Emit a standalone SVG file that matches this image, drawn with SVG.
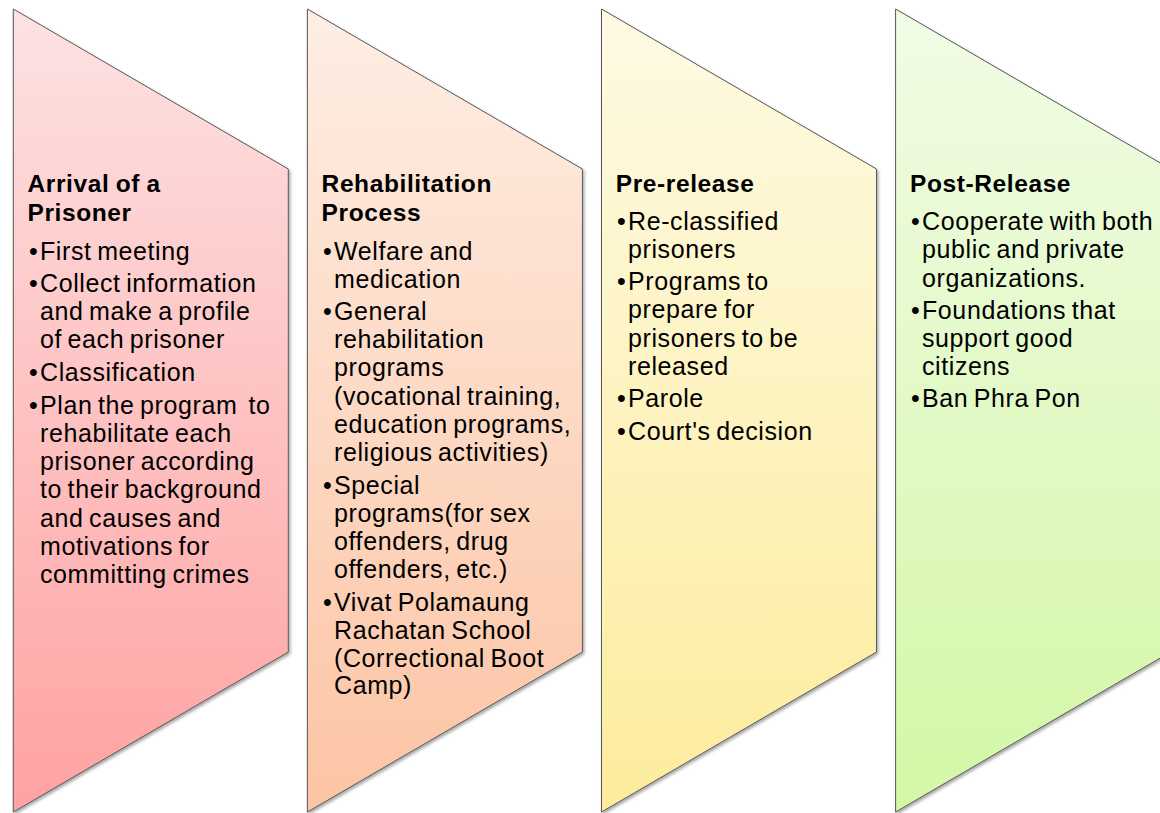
<svg xmlns="http://www.w3.org/2000/svg" width="1160" height="813" viewBox="0 0 1160 813">
  <defs>
    <linearGradient id="gRed" x1="0" y1="0" x2="0" y2="1">
      <stop offset="0" stop-color="#fde2e2"/>
      <stop offset="1" stop-color="#ffa2a2"/>
    </linearGradient>
    <linearGradient id="gPeach" x1="0" y1="0" x2="0" y2="1">
      <stop offset="0" stop-color="#feeee4"/>
      <stop offset="1" stop-color="#fcc4a4"/>
    </linearGradient>
    <linearGradient id="gYellow" x1="0" y1="0" x2="0" y2="1">
      <stop offset="0" stop-color="#fefae4"/>
      <stop offset="1" stop-color="#fdec9c"/>
    </linearGradient>
    <linearGradient id="gGreen" x1="0" y1="0" x2="0" y2="1">
      <stop offset="0" stop-color="#f1fce6"/>
      <stop offset="1" stop-color="#d3f7a6"/>
    </linearGradient>
    <filter id="shadow" x="-10%" y="-10%" width="120%" height="120%">
      <feDropShadow dx="1.5" dy="2" stdDeviation="1.5" flood-color="#000" flood-opacity="0.35"/>
    </filter>
    <!-- one chevron panel; each node shifts it horizontally -->
    <polygon id="panel" points="0,9 275,169 275,652 0,812"/>
  </defs>
  <style>
    .shape { stroke: #595959; stroke-width: 1; filter: url(#shadow); }
    .title { font-family: "Liberation Sans", Arial, sans-serif; font-weight: bold; font-size: 24.5px; letter-spacing: 0.6px; word-spacing: -1px; fill: #000; }
    .body { font-family: "Liberation Sans", Arial, sans-serif; font-size: 25px; letter-spacing: 0.6px; word-spacing: -2px; fill: #000; }
    .pre { white-space: pre; }
  </style>

  <!-- Stage 1 -->
  <g id="arrival">
    <use href="#panel" x="13.3" class="shape" fill="url(#gRed)"/>
    <text class="title"><tspan x="27.5" y="192">Arrival of a</tspan><tspan x="27.5" y="221">Prisoner</tspan></text>
    <text class="body">
      <tspan x="29" y="260">•</tspan><tspan x="40" y="260">First meeting</tspan>
      <tspan x="29" y="292">•</tspan><tspan x="40" y="292">Collect information</tspan>
      <tspan x="40" y="320">and make a profile</tspan>
      <tspan x="40" y="348">of each prisoner</tspan>
      <tspan x="29" y="381">•</tspan><tspan x="40" y="381">Classification</tspan>
      <tspan x="29" y="414">•</tspan><tspan x="40" y="414" class="pre">Plan the program  to</tspan>
      <tspan x="40" y="442">rehabilitate each</tspan>
      <tspan x="40" y="470">prisoner according</tspan>
      <tspan x="40" y="498">to their background</tspan>
      <tspan x="40" y="527">and causes and</tspan>
      <tspan x="40" y="555">motivations for</tspan>
      <tspan x="40" y="583">committing crimes</tspan>
    </text>
  </g>

  <!-- Stage 2 -->
  <g id="rehabilitation">
    <use href="#panel" x="307.4" class="shape" fill="url(#gPeach)"/>
    <text class="title"><tspan x="321.6" y="192">Rehabilitation</tspan><tspan x="321.6" y="221">Process</tspan></text>
    <text class="body">
      <tspan x="323" y="260">•</tspan><tspan x="334" y="260">Welfare and</tspan>
      <tspan x="334" y="288">medication</tspan>
      <tspan x="323" y="320">•</tspan><tspan x="334" y="320">General</tspan>
      <tspan x="334" y="348">rehabilitation</tspan>
      <tspan x="334" y="376">programs</tspan>
      <tspan x="334" y="405">(vocational training,</tspan>
      <tspan x="334" y="433">education programs,</tspan>
      <tspan x="334" y="461">religious activities)</tspan>
      <tspan x="323" y="494">•</tspan><tspan x="334" y="494">Special</tspan>
      <tspan x="334" y="522">programs(for sex</tspan>
      <tspan x="334" y="550">offenders, drug</tspan>
      <tspan x="334" y="578">offenders, etc.)</tspan>
      <tspan x="323" y="611">•</tspan><tspan x="334" y="611">Vivat Polamaung</tspan>
      <tspan x="334" y="639">Rachatan School</tspan>
      <tspan x="334" y="667">(Correctional Boot</tspan>
      <tspan x="334" y="694">Camp)</tspan>
    </text>
  </g>

  <!-- Stage 3 -->
  <g id="pre-release">
    <use href="#panel" x="601.5" class="shape" fill="url(#gYellow)"/>
    <text class="title"><tspan x="615.8" y="192">Pre-release</tspan></text>
    <text class="body">
      <tspan x="617" y="230">•</tspan><tspan x="628" y="230">Re-classified</tspan>
      <tspan x="628" y="258">prisoners</tspan>
      <tspan x="617" y="290">•</tspan><tspan x="628" y="290">Programs to</tspan>
      <tspan x="628" y="318">prepare for</tspan>
      <tspan x="628" y="347">prisoners to be</tspan>
      <tspan x="628" y="375">released</tspan>
      <tspan x="617" y="407">•</tspan><tspan x="628" y="407">Parole</tspan>
      <tspan x="617" y="440">•</tspan><tspan x="628" y="440">Court's decision</tspan>
    </text>
  </g>

  <!-- Stage 4 -->
  <g id="post-release">
    <use href="#panel" x="895.6" class="shape" fill="url(#gGreen)"/>
    <text class="title"><tspan x="910" y="192">Post-Release</tspan></text>
    <text class="body">
      <tspan x="911" y="230">•</tspan><tspan x="922" y="230">Cooperate with both</tspan>
      <tspan x="922" y="258">public and private</tspan>
      <tspan x="922" y="287">organizations.</tspan>
      <tspan x="911" y="319">•</tspan><tspan x="922" y="319">Foundations that</tspan>
      <tspan x="922" y="347">support good</tspan>
      <tspan x="922" y="375">citizens</tspan>
      <tspan x="911" y="407">•</tspan><tspan x="922" y="407">Ban Phra Pon</tspan>
    </text>
  </g>
</svg>
